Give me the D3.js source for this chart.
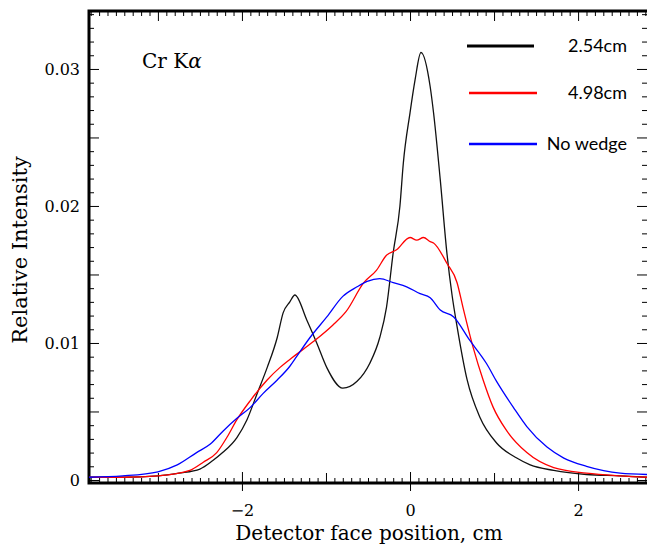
<!DOCTYPE html>
<html>
<head>
<meta charset="utf-8">
<script src="https://cdn.jsdelivr.net/npm/d3@7"></script>
<style>
  body { margin: 0; background: #fff; }
  .tick text { font-family: "DejaVu Serif", serif; font-size: 16px; fill: #000; }
  .axis path { display: none; }
  .axis line { stroke: #000; stroke-width: 1; }
  .curve { fill: none; stroke-width: 1.3; stroke-linejoin: round; }
  .legend text { font-family: Lato, sans-serif; font-size: 18px; fill: #000; }
</style>
</head>
<body>
<svg id="svg1" width="647" height="549"></svg>
<script>
// 2.54cm wedge
var posBlack = [-3.82, -3.4, -3.0, -2.75, -2.5, -2.35, -2.23, -2.06, -1.94, -1.82, -1.70, -1.58, -1.51, -1.43, -1.37,
  -1.23, -1.11, -0.99, -0.80, -0.63, -0.48, -0.36, -0.28, -0.20, -0.12, -0.08, 0, 0.06, 0.13, 0.24, 0.28,
  0.36, 0.44, 0.50, 0.56, 0.68, 0.83, 1.03, 1.27, 1.43, 1.71, 2.1, 2.5, 2.82];
var valBlack = [0.0002, 0.0002, 0.0003, 0.0005, 0.0008, 0.0014, 0.0020, 0.0031, 0.0044, 0.0063, 0.0082, 0.0104, 0.0122, 0.0130, 0.0135,
  0.0117, 0.0100, 0.0082, 0.0067, 0.0072, 0.0085, 0.0104, 0.0126, 0.0166, 0.0200, 0.0231, 0.0268, 0.0292, 0.0312, 0.0287, 0.0268,
  0.0219, 0.0165, 0.0135, 0.0112, 0.0073, 0.0046, 0.0027, 0.0016, 0.0011, 0.0007, 0.0004, 0.0003, 0.0002];

// 4.98cm wedge
var posRed = [-3.82, -3.4, -3.0, -2.62, -2.46, -2.30, -2.18, -2.06, -1.90, -1.70, -1.55, -1.43, -1.15, -0.92, -0.76,
  -0.55, -0.40, -0.28, -0.16, 0, 0.08, 0.16, 0.24, 0.28, 0.44, 0.56, 0.63, 0.75, 0.87, 0.99, 1.15, 1.39,
  1.71, 2.1, 2.5, 2.82];
var valRed = [0.0002, 0.0002, 0.0003, 0.0007, 0.0013, 0.0020, 0.0031, 0.0044, 0.0058, 0.0073, 0.0082, 0.0088, 0.0101, 0.0113, 0.0123,
  0.0144, 0.0153, 0.0164, 0.0168, 0.0177, 0.0175, 0.0177, 0.0174, 0.0173, 0.0158, 0.0144, 0.0126, 0.0097, 0.0073, 0.0053, 0.0036, 0.0020,
  0.0009, 0.0005, 0.0003, 0.0002];

// no wedge
var posBlue = [-3.82, -3.42, -3.0, -2.77, -2.54, -2.38, -2.22, -2.06, -1.90, -1.75, -1.58, -1.43, -1.35, -1.19, -0.99,
  -0.80, -0.63, -0.51, -0.36, -0.20, -0.04, 0.12, 0.24, 0.36, 0.52, 0.71, 0.91, 1.03, 1.23, 1.39, 1.63, 1.83,
  2.1, 2.5, 2.82];
var valBlue = [0.0002, 0.0003, 0.0006, 0.0011, 0.0020, 0.0026, 0.0036, 0.0045, 0.0053, 0.0063, 0.0073, 0.0083, 0.0090, 0.0104, 0.0119,
  0.0134, 0.0141, 0.0145, 0.0147, 0.0144, 0.0141, 0.0136, 0.0133, 0.0124, 0.0119, 0.0102, 0.0085, 0.0072, 0.0053, 0.0039, 0.0024, 0.0016,
  0.0010, 0.0005, 0.0004];

var seriesNames = ["2.54cm", "4.98cm", "No wedge"];
var seriesColors = ["#111", "#ff0000", "#0000ff"];
var xMajorTicks = [-2, 0, 2];
var yMajorTicks = [0, 0.01, 0.02, 0.03];

var svg1 = d3.select("#svg1"),
    margin = {top: 11, right: 0, bottom: 66, left: 89},
    width = +svg1.attr("width") - margin.left - margin.right,
    height = +svg1.attr("height") - margin.top - margin.bottom;

var x = d3.scaleLinear().domain([-3.82, 2.82]).range([0, width]),
    y = d3.scaleLinear().domain([-0.00022, 0.03423]).range([height, 0]);

var g = svg1.append("g")
    .attr("transform", "translate(" + margin.left + "," + margin.top + ")");

var xMinor = d3.range(-38, 29).map(function(i) { return i / 10; })
    .filter(function(v) { return Math.abs(v - Math.round(v)) > 1e-6; });
var xMid = [-3, -1, 1];
var yMinor = d3.range(0, 35).map(function(i) { return i / 1000; })
    .filter(function(v) { return (Math.round(v * 1000) % 5) !== 0; });
var yMid = [0.005, 0.015, 0.025];

function noText() { return ""; }

// bottom axis
g.append("g").attr("class", "axis").attr("transform", "translate(0," + height + ")")
    .call(d3.axisBottom(x).tickValues(xMinor).tickSize(-5).tickFormat(noText));
g.append("g").attr("class", "axis").attr("transform", "translate(0," + height + ")")
    .call(d3.axisBottom(x).tickValues(xMid).tickSize(-10).tickFormat(noText));
g.append("g").attr("class", "axis").attr("transform", "translate(0," + height + ")")
    .call(d3.axisBottom(x).tickValues(xMajorTicks).tickSize(-11).tickFormat(noText))
    .selectAll("line").attr("stroke-width", 2.5);
g.append("g").attr("class", "axis").attr("transform", "translate(0," + height + ")")
    .call(d3.axisBottom(x).tickValues(xMajorTicks).tickSize(8).tickPadding(14).tickFormat(d3.format("d")))
    .selectAll("line").attr("stroke-width", 2.5);

// top axis
g.append("g").attr("class", "axis")
    .call(d3.axisTop(x).tickValues(xMinor).tickSize(-5).tickFormat(noText));
g.append("g").attr("class", "axis")
    .call(d3.axisTop(x).tickValues(xMid.concat(xMajorTicks)).tickSize(-10).tickFormat(noText));

// left axis
g.append("g").attr("class", "axis")
    .call(d3.axisLeft(y).tickValues(yMinor).tickSize(-5).tickFormat(noText));
g.append("g").attr("class", "axis")
    .call(d3.axisLeft(y).tickValues(yMid).tickSize(-10).tickFormat(noText));
g.append("g").attr("class", "axis")
    .call(d3.axisLeft(y).tickValues(yMajorTicks).tickSize(-10).tickPadding(9)
      .tickFormat(function(d) { return d === 0 ? "0" : d3.format(".2f")(d); }));

// right axis
g.append("g").attr("class", "axis").attr("transform", "translate(" + width + ",0)")
    .call(d3.axisRight(y).tickValues(yMinor).tickSize(-5).tickFormat(noText));
g.append("g").attr("class", "axis").attr("transform", "translate(" + width + ",0)")
    .call(d3.axisRight(y).tickValues(yMid.concat(yMajorTicks)).tickSize(-10).tickFormat(noText));

// frame
g.append("path")
    .attr("d", "M" + width + ",0H0V" + height + "H" + width)
    .attr("fill", "none")
    .attr("stroke", "#000")
    .attr("stroke-width", 3);

g.append("clipPath").attr("id", "clip")
  .append("rect").attr("width", width).attr("height", height);

var line = d3.line()
    .curve(d3.curveMonotoneX)
    .x(function(d) { return x(d[0]); })
    .y(function(d) { return y(d[1]); });

var series = [
  d3.zip(posBlack, valBlack),
  d3.zip(posRed, valRed),
  d3.zip(posBlue, valBlue)
];

g.selectAll(".curve")
  .data(series)
  .enter().append("path")
    .attr("class", "curve")
    .attr("clip-path", "url(#clip)")
    .attr("stroke", function(d, i) { return seriesColors[i]; })
    .attr("stroke-width", function(d, i) { return i === 0 ? 1.1 : 1.3; })
    .attr("d", line);

// legend
var legend = g.append("g").attr("class", "legend");
var legendY = [35, 82, 133];
seriesNames.forEach(function(name, i) {
  legend.append("line")
      .attr("x1", 378 + (i ? 2 : 0)).attr("x2", 445 + (i ? 3 : 0))
      .attr("y1", legendY[i]).attr("y2", legendY[i])
      .attr("stroke", seriesColors[i] === "#111" ? "#000" : seriesColors[i])
      .attr("stroke-width", i === 0 ? 3 : 2.5);
  legend.append("text")
      .attr("x", 538).attr("y", legendY[i])
      .attr("dy", "0.35em")
      .attr("text-anchor", "end")
      .text(name);
});

// title
var title = g.append("text")
    .attr("x", 53).attr("y", 57)
    .attr("font-family", "DejaVu Serif, serif")
    .attr("font-size", 20);
title.append("tspan").text("Cr K");
title.append("tspan").attr("font-style", "italic").text("α");

// axis labels
svg1.append("text")
    .attr("x", 369).attr("y", 540)
    .attr("text-anchor", "middle")
    .attr("font-family", "DejaVu Serif, serif")
    .attr("font-size", 20)
    .text("Detector face position, cm");

svg1.append("text")
    .attr("transform", "translate(27,250) rotate(-90)")
    .attr("text-anchor", "middle")
    .attr("font-family", "DejaVu Serif, serif")
    .attr("font-size", 21)
    .text("Relative Intensity");
</script>
</body>
</html>
